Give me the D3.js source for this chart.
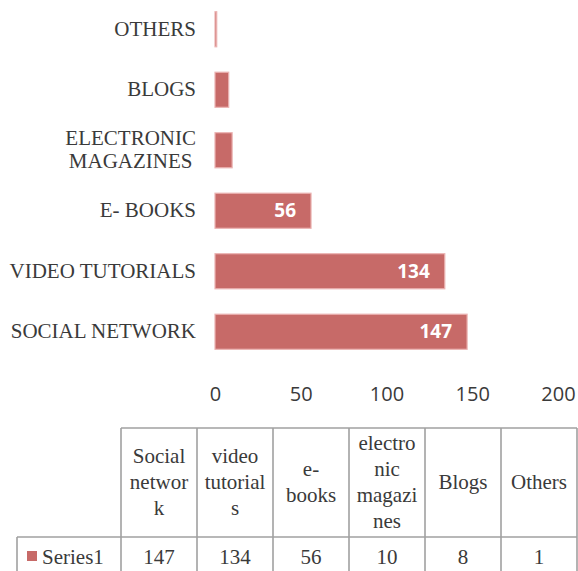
<!DOCTYPE html>
<html>
<head>
<meta charset="utf-8">
<script src="https://cdn.jsdelivr.net/npm/d3@7"></script>
<style>
  html, body { margin: 0; padding: 0; background: #fff; }
  svg { display: block; }
</style>
</head>
<body>
<svg id="chart" width="578" height="571"></svg>
<script>
// chart data
const categories = ['SOCIAL NETWORK', 'VIDEO TUTORIALS', 'E- BOOKS', 'ELECTRONIC MAGAZINES', 'BLOGS', 'OTHERS'];
const categoryLines = [['SOCIAL NETWORK'], ['VIDEO TUTORIALS'], ['E- BOOKS'], ['ELECTRONIC', 'MAGAZINES'], ['BLOGS'], ['OTHERS']];
const series1 = [147, 134, 56, 10, 8, 1];
const xTicks = [0, 50, 100, 150, 200];
const seriesName = 'Series1';
const tableHeaders = ['Social network', 'video tutorials', 'e-books', 'electronic magazines', 'Blogs', 'Others'];
const tableHeaderLines = [['Social', 'networ', 'k'], ['video', 'tutorial', 's'], ['e-', 'books'], ['electro', 'nic', 'magazi', 'nes'], ['Blogs'], ['Others']];

const barFill = '#c76a68';
const barStroke = '#ebb4b3';
const textColor = '#3a3a3a';
const gridColor = '#a0a0a0';
const serif = '"Liberation Serif", "Times New Roman", serif';
const sans = '"Open Sans", "Noto Sans", sans-serif';

const svg = d3.select('#chart');

const rows = categories.map((c, i) => ({ name: c, lines: categoryLines[i], value: series1[i] }));

const x = d3.scaleLinear().domain([0, 200]).range([215, 558]);
const y = d3.scaleBand()
	.domain(categories.slice().reverse())
	.range([-1, 362])
	.paddingInner(0.42)
	.paddingOuter(0.21);

// bars
svg.append('g').selectAll('rect')
	.data(rows)
	.enter().append('rect')
		.attr('x', x(0))
		.attr('y', (d) => y(d.name))
		.attr('width', (d) => x(d.value) - x(0))
		.attr('height', y.bandwidth())
		.attr('fill', barFill)
		.attr('stroke', barStroke)
		.attr('stroke-width', 1.2);

// value labels inside the larger bars
svg.append('g').selectAll('text')
	.data(rows.filter((d) => d.value > 20))
	.enter().append('text')
		.attr('x', (d) => x(d.value) - 15)
		.attr('y', (d) => y(d.name) + y.bandwidth() / 2)
		.attr('dy', '0.35em')
		.attr('text-anchor', 'end')
		.attr('fill', '#fff')
		.attr('font-family', sans)
		.attr('font-weight', 'bold')
		.attr('font-size', 19)
		.text((d) => d.value);

// category axis
const yAxis = svg.append('g')
	.attr('transform', 'translate(196,0)')
	.call(d3.axisLeft(y).tickSize(0).tickPadding(0));
yAxis.select('.domain').remove();
yAxis.selectAll('.tick text')
	.attr('fill', textColor)
	.attr('font-family', serif)
	.attr('font-size', 21)
	.each(function (name) {
		const lines = categoryLines[categories.indexOf(name)];
		const t = d3.select(this).text(null).attr('dy', null);
		const lh = 23;
		lines.forEach((line, i) => {
			t.append('tspan')
				.attr('x', 0)
				.attr('y', (i - (lines.length - 1) / 2) * lh)
				.attr('dy', '0.32em')
				.text(line);
		});
		if (lines.length > 1) {
			// centre the wrapped lines under each other, right aligned as a block
			const w = this.getBBox().width;
			t.attr('text-anchor', 'middle');
			t.selectAll('tspan').attr('x', -w / 2);
		}
	});

// value axis
const xAxis = svg.append('g')
	.attr('transform', 'translate(0,387)')
	.call(d3.axisBottom(x).tickValues(xTicks).tickSize(0).tickPadding(0));
xAxis.select('.domain').remove();
xAxis.selectAll('.tick text')
	.attr('fill', textColor)
	.attr('font-family', sans)
	.attr('font-size', 20)
	.attr('dy', '0.71em');

// data table
const col = d3.scaleBand().domain(tableHeaders).range([121, 577]);
const headTop = 428;
const rowTop = 537;
const rowBottom = 600;
const labelLeft = 17;

const grid = svg.append('g')
	.attr('stroke', gridColor)
	.attr('stroke-width', 1.6)
	.attr('fill', 'none');
grid.append('line').attr('x1', col.range()[0]).attr('x2', col.range()[1]).attr('y1', headTop).attr('y2', headTop);
grid.append('line').attr('x1', labelLeft).attr('x2', col.range()[1]).attr('y1', rowTop).attr('y2', rowTop);
grid.append('line').attr('x1', labelLeft).attr('x2', labelLeft).attr('y1', rowTop).attr('y2', rowBottom);
grid.selectAll('line.v')
	.data(tableHeaders.concat(['end']))
	.enter().append('line')
		.attr('class', 'v')
		.attr('x1', (d) => d === 'end' ? col.range()[1] : col(d))
		.attr('x2', (d) => d === 'end' ? col.range()[1] : col(d))
		.attr('y1', headTop)
		.attr('y2', rowBottom);

// header cells
const headLh = 26;
svg.append('g').selectAll('text')
	.data(tableHeaders)
	.enter().append('text')
		.attr('fill', textColor)
		.attr('font-family', serif)
		.attr('font-size', 21)
		.attr('text-anchor', 'middle')
		.each(function (h, i) {
			const lines = tableHeaderLines[i];
			const cx = col(h) + col.bandwidth() / 2;
			const cy = (headTop + rowTop) / 2;
			lines.forEach((line, k) => {
				d3.select(this).append('tspan')
					.attr('x', cx)
					.attr('y', cy + (k - (lines.length - 1) / 2) * headLh)
					.attr('dy', '0.3em')
					.text(line);
			});
		});

// data row
svg.append('g').selectAll('text')
	.data(rows)
	.enter().append('text')
		.attr('x', (d, i) => col(tableHeaders[i]) + col.bandwidth() / 2)
		.attr('y', 564)
		.attr('text-anchor', 'middle')
		.attr('fill', textColor)
		.attr('font-family', serif)
		.attr('font-size', 21)
		.text((d) => d.value);

// legend key for the series
svg.append('rect')
	.attr('x', 27)
	.attr('y', 551)
	.attr('width', 10)
	.attr('height', 10)
	.attr('fill', barFill);
svg.append('text')
	.attr('x', 42)
	.attr('y', 564)
	.attr('fill', textColor)
	.attr('font-family', serif)
	.attr('font-size', 21)
	.text(seriesName);
</script>
</body>
</html>
